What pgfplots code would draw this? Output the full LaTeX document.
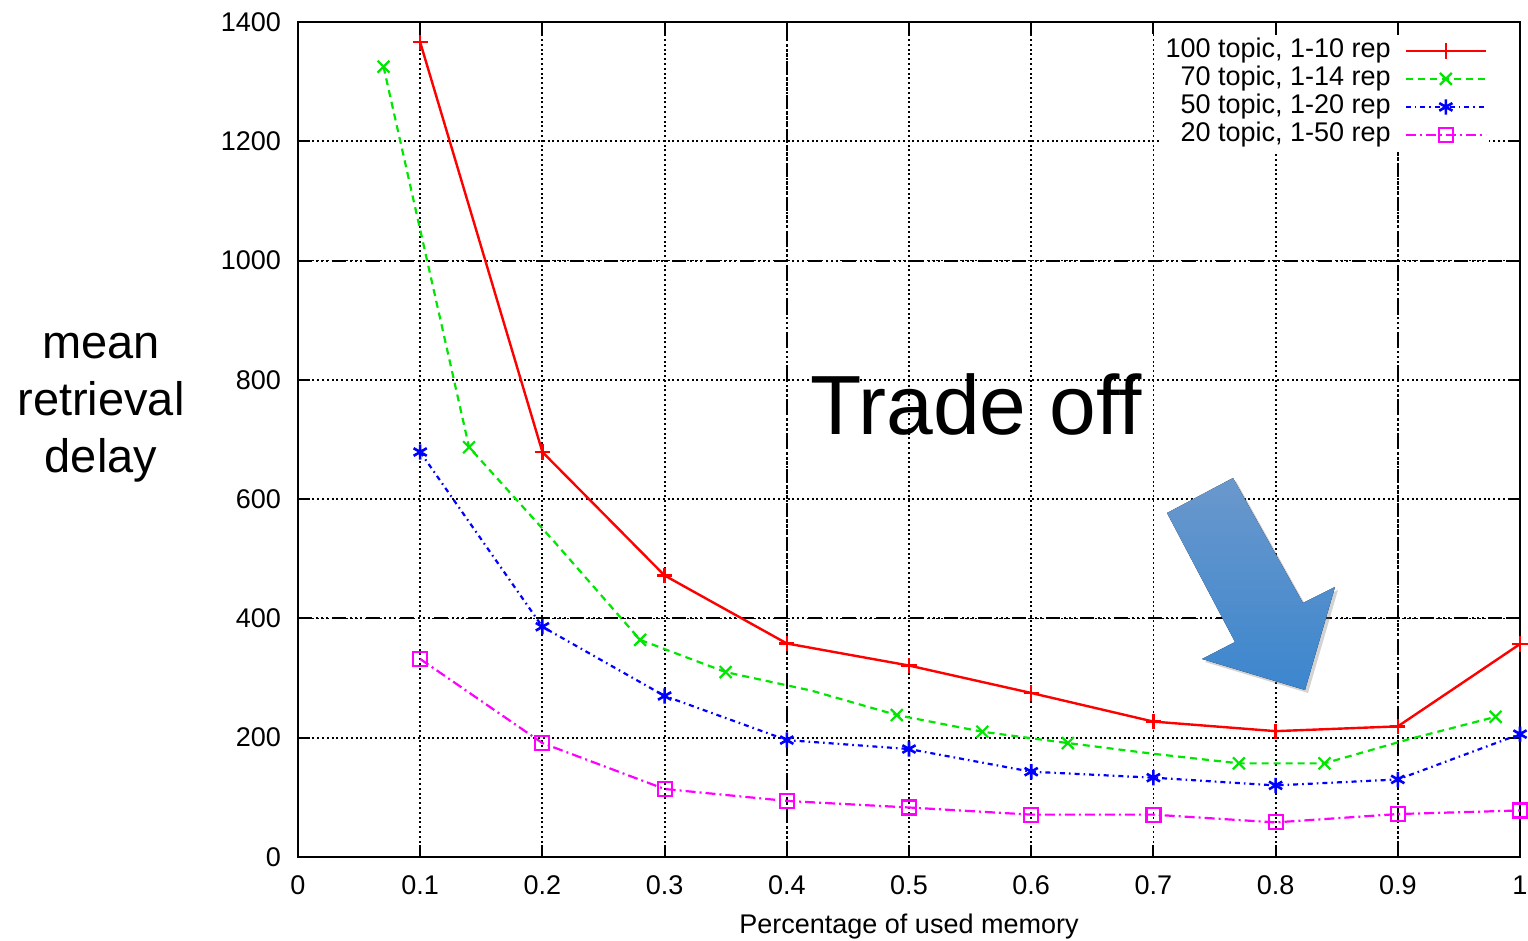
\documentclass[border=0pt]{standalone}
\usepackage{fontspec}
\setmainfont{Liberation Sans}
\usepackage{pgfplots}
\pgfplotsset{compat=1.18}
\usetikzlibrary{shadows}
\definecolor{gpred}{RGB}{255,0,0}
\definecolor{gpgreen}{RGB}{0,230,0}
\definecolor{gpblue}{RGB}{0,0,255}
\definecolor{gpmag}{RGB}{255,0,255}
\definecolor{arrtop}{RGB}{106,152,204}
\definecolor{arrbot}{RGB}{60,134,206}
\begin{document}
\begin{tikzpicture}
\path[use as bounding box] (-149pt,-42pt) rectangle (615pt,428.5pt);
\begin{axis}[
  name=ax,
  scale only axis, width=611pt, height=417.5pt,
  xmin=0, xmax=1, ymin=0, ymax=1400,
  xtick={0,0.1,0.2,0.3,0.4,0.5,0.6,0.7,0.8,0.9,1},
  xticklabels={0,0.1,0.2,0.3,0.4,0.5,0.6,0.7,0.8,0.9,1},
  ytick={0,200,400,600,800,1000,1200,1400},
  yticklabels={0,200,400,600,800,1000,1200,1400},
  tick label style={font=\fontsize{13.5}{16}\selectfont},
  yticklabel style={xshift=-5pt},
  xticklabel style={yshift=-6pt},
  grid=major,
  major grid style={black, line width=0.9pt, dash pattern=on 1pt off 1.4pt},
  extra x ticks={0.4,0.9}, extra y ticks={400,1000},
  extra x tick labels={}, extra y tick labels={},
  extra tick style={major grid style={black, line width=1pt, dash pattern=on 7pt off 2pt on 1pt off 1.5pt on 1pt off 1.5pt on 1pt off 2pt}},
  axis line style={black, line width=1pt},
  tick style={black, line width=1pt}, major tick length=6pt,
  xlabel={Percentage of used memory},
  xlabel style={font=\fontsize{13.5}{16}\selectfont, yshift=-2.5pt},
  legend cell align=right, legend plot pos=right,
  legend style={draw=none, fill=white, at={(axis description cs:0.975,0.985)}, anchor=north east,
    font=\fontsize{13.5}{14}\selectfont, inner sep=1pt,
    nodes={inner sep=1pt, text height=9.5pt, text depth=2.5pt},
    /tikz/every odd column/.append style={column sep=6pt}},
  legend image code/.code={\draw[mark repeat=2,mark phase=2,#1] plot coordinates {(0pt,0pt) (20pt,0pt) (40pt,0pt)};},
]
\addplot[gpred, line width=1.2pt, mark=+, mark size=3.8pt, mark options={solid}] coordinates {
 (0.1,1366) (0.2,679) (0.3,472) (0.4,358) (0.5,321) (0.6,275) (0.7,227) (0.8,211) (0.9,219) (1.0,357)};
\addlegendentry{100 topic, 1-10 rep}
\addplot[gpgreen, line width=1.1pt, dash pattern=on 3.5pt off 2.5pt, mark=x, mark size=4.2pt, mark options={solid},
  mark indices={1,2,4,5,7,8,9,11,12,14}, forget plot]
 coordinates {
 (0.07,1325) (0.14,687) (0.21,528) (0.28,364) (0.35,310) (0.42,279) (0.49,238) (0.56,210) (0.63,191) (0.70,173) (0.77,157) (0.84,157) (0.91,198) (0.98,235)};
\addlegendimage{gpgreen, line width=1.1pt, dash pattern=on 3.5pt off 2.5pt, mark=x, mark size=4.2pt, mark options={solid}}
\addlegendentry{70 topic, 1-14 rep}
\addplot[gpblue, line width=1.1pt, dash pattern=on 2.5pt off 2pt on 0.8pt off 2pt, mark=asterisk, mark size=3.8pt, mark options={solid, line width=1.3pt}] coordinates {
 (0.1,679) (0.2,386) (0.3,270) (0.4,196) (0.5,181) (0.6,143) (0.7,133) (0.8,120) (0.9,130) (1.0,206)};
\addlegendentry{50 topic, 1-20 rep}
\addplot[gpmag, line width=1.1pt, dash pattern=on 5pt off 2pt on 1pt off 2pt, mark=square, mark size=3.5pt, mark options={solid}] coordinates {
 (0.1,332) (0.2,191) (0.3,114) (0.4,94) (0.5,83) (0.6,71) (0.7,71) (0.8,58) (0.9,72) (1.0,78)};
\addlegendentry{20 topic, 1-50 rep}
\end{axis}
\node[anchor=base west, inner sep=0pt, font=\fontsize{42}{50}\selectfont] at (256pt,211pt) {Trade off};
\node[align=center, font=\fontsize{23.5}{28.5}\selectfont, inner sep=0pt] at (-98.5pt,224.5pt) {mean\\retrieval\\delay};
\fill[top color=arrtop, bottom color=arrbot, drop shadow={shadow xshift=1.5pt, shadow yshift=-1.5pt, opacity=0.35}]
 (434.5pt,172pt) -- (467.5pt,189.5pt) -- (502.5pt,127pt) -- (518.5pt,135pt) -- (503.5pt,83.5pt) -- (452pt,99pt) -- (468.5pt,107.5pt) -- cycle;
\end{tikzpicture}
\end{document}
